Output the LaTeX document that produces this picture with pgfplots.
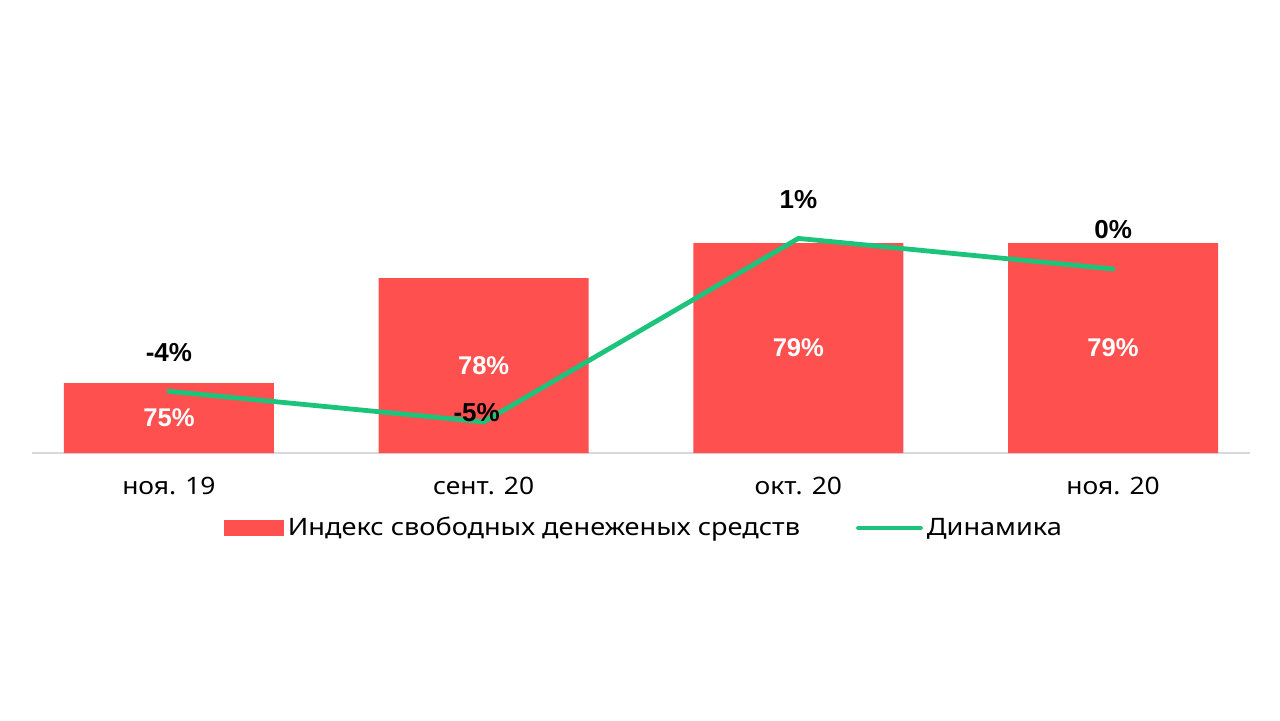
\documentclass[border=0pt]{standalone}
\usepackage{pgfplots}
\pgfplotsset{compat=1.18}
\usepackage{fontspec}
\setmainfont{Liberation Sans}
\newfontfamily\regfont[FakeStretch=1.1]{Noto Sans}
\newfontfamily\legfont[FakeStretch=1.13]{Noto Sans}
\definecolor{barred}{HTML}{FF5050}
\definecolor{linegreen}{HTML}{1CC47B}
\definecolor{axgray}{HTML}{D9D9D9}
\begin{document}
\begin{tikzpicture}[x=1pt,y=1pt]
\path[use as bounding box,fill=white] (0,0) rectangle (640,360);
\begin{axis}[
  at={(16pt,133.5pt)}, anchor=south west,
  scale only axis, width=609pt, height=151.5pt,
  xmin=-0.435, xmax=3.435, ymin=73, ymax=81.657,
  axis y line=none, axis x line=bottom,
  x axis line style={-, draw=axgray, line width=1pt},
  xtick={0,1,2,3}, xticklabels={ноя. 19, сент. 20, окт. 20, ноя. 20},
  major tick length=0pt,
  xticklabel style={font=\regfont\fontsize{12}{14}\selectfont, yshift=-8.5pt},
  clip=false,
]
\addplot[ybar, bar width=105pt, bar shift=0pt, fill=barred, draw=none] coordinates {(0,75) (1,78) (2,79) (3,79)};
\addplot[draw=none, nodes near coords, point meta=explicit symbolic,
  nodes near coords style={text=white, font=\fontsize{12.8}{14}\selectfont\bfseries, anchor=center}]
  coordinates {(0,74)[75\%] (1,75.5)[78\%] (2,76)[79\%] (3,76)[79\%]};
\end{axis}
\begin{axis}[
  at={(16pt,133.5pt)}, anchor=south west,
  scale only axis, width=609pt, height=151.5pt,
  xmin=-0.435, xmax=3.435, ymin=-6.017, ymax=3.891,
  hide axis, clip=false,
  legend columns=2,
  legend style={at={(0.5033,-0.2475)}, anchor=center, draw=none, fill=none,
    font=\legfont\fontsize{12}{14}\selectfont,
    /tikz/every odd column/.append style={column sep=0pt},
    /tikz/every even column/.append style={column sep=26pt},
    legend cell align=left},
]
\addlegendimage{legend image code/.code={\fill[barred] (0pt,-3.6pt) rectangle (29.5pt,3.6pt);}}
\addlegendentry{Индекс свободных денеженых средств}
\addplot[linegreen, line width=2.4pt, line cap=round, line join=round,
  legend image code/.code={\draw[linegreen, line width=2.4pt, line cap=round] (0pt,0pt) -- (31pt,0pt);}]
  coordinates {(0,-4) (1,-5) (2,1) (3,0)};
\addlegendentry{Динамика}
\addplot[draw=none, forget plot, nodes near coords, point meta=explicit symbolic,
  nodes near coords style={text=black, font=\fontsize{13}{14}\selectfont\bfseries, anchor=center, yshift=19.5pt}]
  coordinates {(0,-4)[-4\%] (2,1)[1\%] (3,0)[0\%]};
\addplot[draw=none, forget plot, nodes near coords, point meta=explicit symbolic,
  nodes near coords style={text=black, font=\fontsize{13}{14}\selectfont\bfseries, anchor=center, yshift=4.5pt, xshift=-3.5pt}]
  coordinates {(1,-5)[-5\%]};
\end{axis}
\end{tikzpicture}
\end{document}
